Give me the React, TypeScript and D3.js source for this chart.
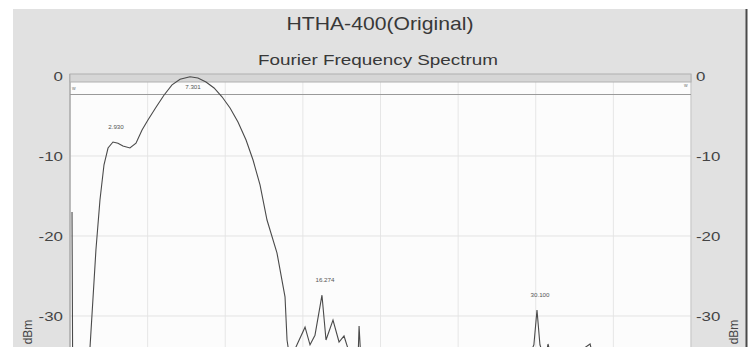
import * as d3 from "d3"

// spectrum trace, frequency (Hz) vs level (dB)
const freqs = [
  0.13, 0.19, 1.1, 1.29, 1.67, 1.93, 2.19, 2.45, 2.77, 3.09, 3.41, 3.86, 4.25, 4.64,
  5.02, 5.54, 6.05, 6.57, 7.09, 7.73, 8.24, 8.76, 9.28, 9.79, 10.31, 10.82, 11.34,
  11.79, 12.24, 12.69, 13.33, 13.85, 13.98, 14.17, 14.62, 15.14, 15.46, 15.78, 16.23,
  16.49, 16.94, 17.33, 17.65, 18.04, 18.55, 18.62, 18.74, 19.97, 22.5, 25.1, 27.7,
  29.6, 29.88, 30.08, 30.27, 30.6, 30.79, 31.05, 32.2, 33.5, 33.75, 35.4, 38.0, 40.0,
]
const levels = [
  -17.0, -45, -40, -33.9, -21.75, -15.5, -11.1, -9.0, -8.25, -8.4, -8.75, -9.0, -8.4,
  -6.75, -5.5, -3.9, -2.4, -1.1, -0.4, -0.1, -0.25, -0.75, -1.5, -2.6, -4.0, -5.75,
  -8.0, -10.5, -13.6, -18.0, -22.1, -27.6, -33.0, -35.5, -33.6, -31.4, -33.6, -32.4,
  -27.4, -33.0, -30.5, -33.25, -32.5, -34.9, -35.5, -31.25, -35.5, -36.1, -35.5,
  -35.75, -35.25, -34.9, -33.6, -29.25, -33.6, -35.5, -33.5, -35.5, -35.25, -33.5,
  -35.5, -36.1, -35.75, -36.25,
]

// marked peaks
const peakFreqs = [2.77, 7.73, 16.23, 30.08]
const peakLevels = [-8.25, -0.1, -27.4, -29.25]
const peakLabels = ["2.930", "7.301", "16.274", "30.100"]

const yTicks = [0, -10, -20, -30]

const W = 752
const H = 347
const FONT = "'Liberation Sans', Arial, sans-serif"
const SX = 1.25 // source screenshot is stretched horizontally

const App = () => {
  const left = 70
  const right = 691
  const top = 76

  const x = d3.scaleLinear().domain([0, 40]).range([left, right])
  const y = d3.scaleLinear().domain([-64, 0]).range([top + 512, top])

  const pts: [number, number][] = freqs.map((f, i) => [f, levels[i]])
  const line = d3
    .line<[number, number]>()
    .x(d => x(d[0]))
    .y(d => y(d[1]))

  const xGrid = d3.range(0, 40.01, 5)
  const bottom = y(-64)

  const stretched = (tx: number, ty: number) => `translate(${tx},${ty}) scale(${SX},1)`

  return (
    <div style={{ position: "absolute", left: 0, top: 0 }}>
      <svg width={W} height={H} style={{ display: "block", background: "#fff" }}>
        {/* panel */}
        <rect x={13} y={9} width={733} height={H} fill="#e1e1e1" />
        <line x1={746.5} x2={746.5} y1={9} y2={H} stroke="#4a4a4a" strokeWidth={2} />

        {/* titles */}
        <text
          x={380}
          y={30}
          textAnchor="middle"
          fontFamily={FONT}
          fontSize={18.5}
          fill="#383838"
          textLength={187}
          lengthAdjust="spacingAndGlyphs"
        >
          HTHA-400(Original)
        </text>
        <text
          x={378}
          y={65}
          textAnchor="middle"
          fontFamily={FONT}
          fontSize={15.5}
          fill="#383838"
          textLength={240}
          lengthAdjust="spacingAndGlyphs"
        >
          Fourier Frequency Spectrum
        </text>

        {/* plot area */}
        <rect x={left} y={top} width={right - left} height={bottom - top} fill="#fcfcfc" />

        {xGrid.map(g => (
          <line key={"vx" + g} x1={x(g)} x2={x(g)} y1={top} y2={bottom} stroke="#e6e6e6" />
        ))}
        {yTicks.map(t => (
          <g key={"hy" + t}>
            <line x1={left - 5} x2={right + 5} y1={y(t)} y2={y(t)} stroke="#e3e3e3" />
            <text
              transform={stretched(left - 7, y(t) + 5)}
              textAnchor="end"
              fontFamily={FONT}
              fontSize={13.5}
              fill="#444"
            >
              {t}
            </text>
            <text
              transform={stretched(right + 5, y(t) + 5)}
              textAnchor="start"
              fontFamily={FONT}
              fontSize={13.5}
              fill="#444"
            >
              {t}
            </text>
          </g>
        ))}

        {/* axes */}
        <line x1={left} x2={left} y1={top - 2} y2={bottom} stroke="#a8a8a8" strokeWidth={1.5} />
        <line x1={right} x2={right} y1={top - 2} y2={bottom} stroke="#c4c4c4" />

        {/* top strip */}
        <rect x={left} y={top - 2} width={right - left} height={8} fill="#d6d6d6" stroke="#b0b0b0" />
        <line x1={left} x2={right} y1={94.5} y2={94.5} stroke="#9a9a9a" />
        <text x={left + 2} y={90} fontFamily={FONT} fontSize={5} fill="#777">
          w
        </text>
        <text x={right - 7} y={87} fontFamily={FONT} fontSize={5} fill="#777">
          w
        </text>

        {/* trace */}
        <path d={line(pts) ?? ""} fill="none" stroke="#4a4a4a" strokeWidth={1.1} />

        {/* peak labels */}
        {peakFreqs.map((f, i) => {
          const ly = Math.max(y(peakLevels[i]) - 13, 89)
          return (
            <text
              key={"pk" + i}
              transform={stretched(x(f) + 3, ly)}
              textAnchor="middle"
              fontFamily={FONT}
              fontSize={5}
              fill="#555"
            >
              {peakLabels[i]}
            </text>
          )
        })}

        {/* y axis titles */}
        <text
          transform="translate(32,332) rotate(-90)"
          textAnchor="middle"
          fontFamily={FONT}
          fontSize={12}
          fill="#444"
        >
          dBm
        </text>
        <text
          transform="translate(738,332) rotate(-90)"
          textAnchor="middle"
          fontFamily={FONT}
          fontSize={12}
          fill="#444"
        >
          dBm
        </text>
      </svg>
    </div>
  )
}

export default App
